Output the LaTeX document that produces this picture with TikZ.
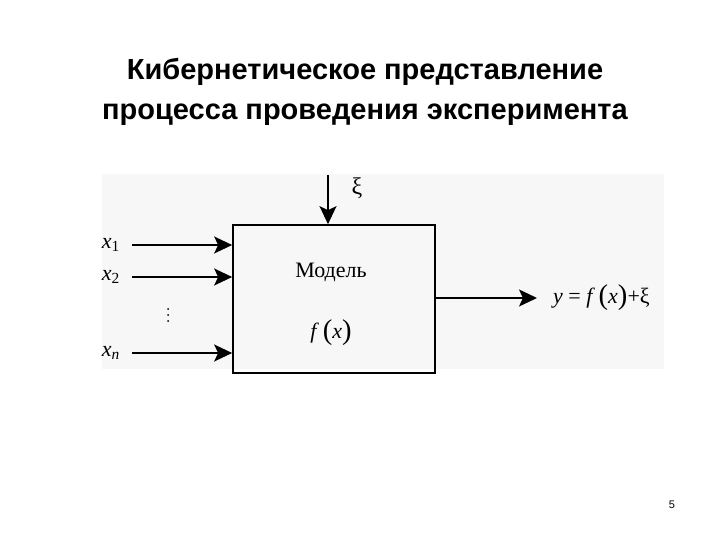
\documentclass[tikz,border=0pt]{standalone}
\usepackage{fontspec}
\setmainfont{Liberation Serif}
\newfontfamily\titlefont{Liberation Sans}
\usetikzlibrary{positioning, arrows.meta}

\newcommand{\bigpar}[1]{\raisebox{-1pt}{\scalebox{1.3}{#1}}}

\tikzset{
    title/.style={font=\titlefont\bfseries\fontsize{29}{35}\selectfont},
    lbl/.style={font=\fontsize{22}{26}\selectfont, inner sep=0pt},
    flow/.style={->, line width=1.7pt}
}

\begin{document}
\begin{tikzpicture}[x=1pt, y=-1pt, >={Stealth[length=18pt, width=17pt, inset=4pt]}]
    \useasboundingbox (0,0) rectangle (720,540);
    \fill[black!3] (102,174) rectangle (664,369);

    \node[title] (t1) at (365,72) {Кибернетическое представление};
    \node[title] (t2) at (365,115) {процесса проведения эксперимента};

    \node[draw, line width=1.7pt, minimum width=202pt, minimum height=148pt, inner sep=0pt] (m) at (334,299) {};
    \node[lbl] (name) at (331,272) {Модель};
    \node[lbl] (fx) at (331,333) {\textit{f}\,\bigpar{(}\textit{x}\bigpar{)}};

    \coordinate (xi) at (328,175);
    \coordinate (i1) at (132,245);
    \coordinate (i2) at (132,277);
    \coordinate (in) at (132,353);
    \coordinate (out) at (537,298);

    \node[lbl, font=\fontsize{24}{28}\selectfont] (lxi) at (357,188) {ξ};
    \node[lbl, left=12pt of i1] (l1) {\textit{x}\textsubscript{1}};
    \node[lbl, left=12pt of i2] (l2) {\textit{x}\textsubscript{2}};
    \node[lbl, left=12pt of in] (ln) {\textit{x}\textsubscript{\textit{n}}};
    \node[lbl, right=16pt of out] (y) {\textit{y} = \textit{f}\,\bigpar{(}\textit{x}\bigpar{)}+ξ};

    % dots between x2 and xn
    \foreach \dy in {309,315,321}
        \fill (168,\dy) circle (1pt);

    \draw[flow] (xi) -- (xi |- m.north);
    \draw[flow] (i1) -- (i1 -| m.west);
    \draw[flow] (i2) -- (i2 -| m.west);
    \draw[flow] (in) -- (in -| m.west);
    \draw[flow] (m.east |- out) -- (out);

    \node[font=\titlefont\fontsize{11}{13}\selectfont] (page) at (672,505) {5};
\end{tikzpicture}
\end{document}
